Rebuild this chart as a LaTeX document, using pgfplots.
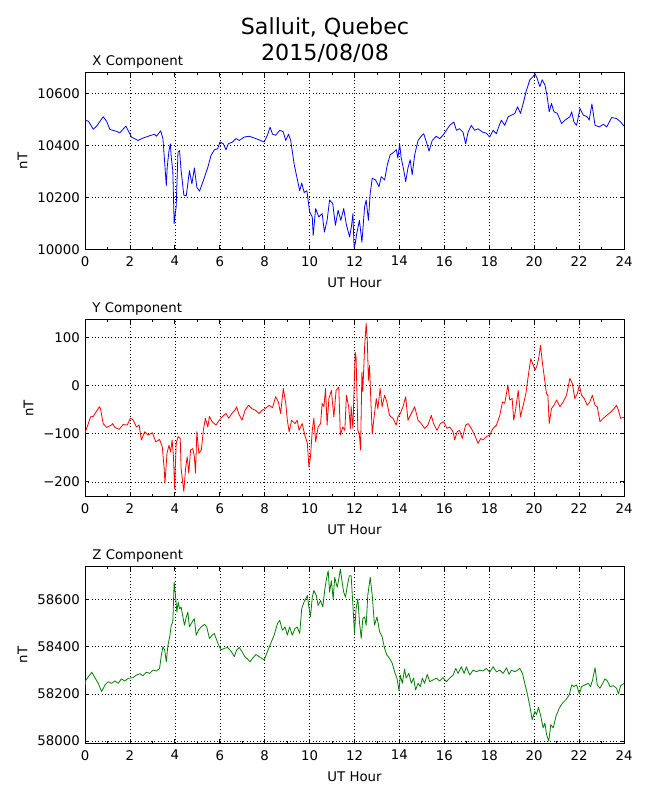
\documentclass[border=0pt]{standalone}
\usepackage{fontspec}
\setmainfont{DejaVu Sans}
\usepackage{pgfplots}
\pgfplotsset{compat=1.18}
\definecolor{mblue}{rgb}{0,0,1}
\definecolor{mred}{rgb}{1,0,0}
\definecolor{mgreen}{rgb}{0,0.5,0}
\pgfplotsset{
  panel/.style={
    scale only axis, width=539pt, height=177pt, anchor=south west,
    xmin=0, xmax=24, xtick={0,2,...,24}, minor xtick={1,3,...,23},
    grid=major,
    major grid style={black, line width=0.5pt, dash pattern=on 1pt off 2.3pt},
    axis line style={line width=1pt, black},
    tick style={black, line width=0.8pt},
    major tick length=4.4pt, minor tick length=2.2pt,
    tick align=inside,
    ticklabel style={font=\fontsize{13.3}{16}\selectfont, inner sep=0pt},
    xticklabel shift=6.5pt, yticklabel shift=5pt,
    scaled ticks=false,
    /pgf/number format/assume math mode=true,
    /pgf/number format/1000 sep={},
    label style={font=\fontsize{13.3}{16}\selectfont, inner sep=0pt},
    xlabel={UT Hour},
    xlabel style={at={(axis description cs:0.5,-0.2158)}, anchor=base},
    ylabel={nT},
    every axis title/.style={font=\fontsize{13.3}{16}\selectfont, inner sep=0pt, anchor=base west, at={(axis description cs:0.0135,1.0418)}},
    every axis plot/.append style={line width=0.8pt, line join=round, mark=none},
  }
}
\begin{document}
\begin{tikzpicture}
\useasboundingbox (0,0) rectangle (650pt,800pt);
\node[font=\fontsize{22.2}{26}\selectfont, anchor=base, inner sep=0pt] at (325pt,765.7pt) {Salluit, Quebec};
\node[font=\fontsize{22.2}{26}\selectfont, anchor=base, inner sep=0pt] at (325pt,739.3pt) {2015/08/08};

% X component
\begin{axis}[panel, at={(85pt,550.5pt)},
  ymin=10000, ymax=10680,
  ytick={10000,10200,10400,10600}, yticklabels={10000,10200,10400,10600},
  ylabel style={at={(axis description cs:-0.10705,0.5)}, anchor=base},
  title={X Component}]
\addplot[mblue] coordinates {
(0,10497)(0.15,10493)(0.37,10462)(0.52,10474)(0.81,10510)(0.96,10493)(1.11,10461)(1.40,10454)(1.55,10448)(1.82,10474)(2.07,10432)(2.36,10419)(2.58,10428)(2.88,10437)(3.10,10443)(3.18,10435)(3.37,10456)(3.47,10426)(3.55,10332)(3.62,10245)(3.66,10316)(3.74,10380)(3.80,10406)(3.84,10355)(3.91,10303)(3.97,10099)(4.02,10138)(4.06,10164)(4.14,10374)(4.21,10380)(4.28,10303)(4.40,10209)(4.51,10206)(4.65,10303)(4.76,10252)(4.87,10313)(4.98,10239)(5.10,10224)(5.27,10265)(5.47,10316)(5.61,10361)(5.76,10383)(5.91,10387)(6.01,10413)(6.16,10406)(6.28,10383)(6.38,10406)(6.57,10413)(6.72,10426)(6.87,10419)(7.09,10432)(7.31,10435)(7.61,10426)(7.98,10413)(8.12,10439)(8.24,10470)(8.35,10443)(8.49,10439)(8.67,10458)(8.82,10453)(8.94,10419)(9.06,10443)(9.16,10419)(9.31,10329)(9.45,10271)(9.56,10226)(9.65,10255)(9.76,10219)(9.88,10226)(10.0,10145)(10.12,10125)(10.16,10054)(10.27,10157)(10.41,10125)(10.56,10138)(10.66,10067)(10.78,10112)(10.89,10190)(11.03,10177)(11.15,10093)(11.27,10151)(11.39,10112)(11.52,10157)(11.63,10099)(11.78,10048)(11.86,10086)(11.93,10138)(11.98,10009)(12.03,10022)(12.10,10061)(12.22,10112)(12.33,10028)(12.45,10164)(12.52,10190)(12.62,10112)(12.70,10216)(12.79,10274)(12.94,10267)(13.09,10241)(13.19,10280)(13.34,10267)(13.46,10325)(13.59,10364)(13.71,10371)(13.86,10384)(13.93,10351)(14.01,10406)(14.08,10351)(14.19,10306)(14.28,10261)(14.38,10313)(14.48,10345)(14.57,10287)(14.68,10364)(14.83,10419)(14.97,10435)(15.08,10445)(15.20,10413)(15.32,10378)(15.46,10419)(15.64,10435)(15.79,10426)(15.94,10439)(16.09,10458)(16.24,10477)(16.42,10490)(16.54,10458)(16.68,10464)(16.83,10451)(16.95,10406)(17.06,10451)(17.20,10477)(17.35,10458)(17.50,10464)(17.70,10451)(17.87,10447)(18.02,10432)(18.17,10458)(18.32,10445)(18.39,10464)(18.54,10497)(18.69,10477)(18.84,10510)(18.99,10516)(19.14,10523)(19.26,10548)(19.39,10523)(19.51,10561)(19.66,10613)(19.81,10652)(19.96,10665)(20.04,10675)(20.13,10658)(20.25,10626)(20.36,10652)(20.48,10632)(20.58,10587)(20.67,10529)(20.77,10561)(20.88,10529)(21.03,10523)(21.22,10484)(21.37,10497)(21.59,10510)(21.67,10529)(21.77,10490)(21.89,10477)(22.04,10542)(22.19,10516)(22.36,10510)(22.45,10497)(22.57,10559)(22.71,10477)(22.90,10471)(23.08,10481)(23.23,10471)(23.45,10507)(23.67,10503)(23.85,10490)(24.0,10474)
};
\end{axis}

% Y component
\begin{axis}[panel, at={(85pt,303.3pt)},
  ymin=-231, ymax=137,
  ytick={-200,-100,0,100}, yticklabels={−200,−100,0,100},
  ylabel style={at={(axis description cs:-0.09592,0.5)}, anchor=base},
  title={Y Component}]
\addplot[mred] coordinates {
(0,-98)(0.04,-93)(0.15,-79)(0.25,-65)(0.37,-64)(0.49,-55)(0.64,-44)(0.69,-48)(0.81,-79)(0.96,-87)(1.18,-82)(1.23,-79)(1.33,-87)(1.52,-91)(1.70,-81)(1.88,-82)(2.02,-68)(2.14,-71)(2.29,-86)(2.41,-82)(2.51,-113)(2.66,-96)(2.81,-103)(3.00,-98)(3.15,-117)(3.32,-112)(3.44,-127)(3.52,-169)(3.56,-203)(3.65,-141)(3.74,-124)(3.81,-138)(3.88,-113)(3.94,-148)(3.99,-214)(4.06,-120)(4.15,-106)(4.24,-110)(4.28,-172)(4.33,-193)(4.40,-220)(4.48,-172)(4.55,-148)(4.62,-182)(4.70,-134)(4.80,-131)(4.87,-148)(4.92,-182)(4.98,-96)(5.07,-141)(5.18,-134)(5.27,-93)(5.36,-68)(5.47,-86)(5.54,-64)(5.66,-75)(5.83,-82)(5.98,-72)(6.13,-64)(6.28,-58)(6.40,-68)(6.54,-58)(6.69,-50)(6.75,-44)(6.84,-58)(6.99,-72)(7.13,-51)(7.28,-41)(7.43,-48)(7.58,-51)(7.75,-58)(7.90,-51)(8.02,-48)(8.20,-41)(8.35,-46)(8.49,-23)(8.61,-34)(8.71,-58)(8.83,-6)(8.94,-37)(9.01,-72)(9.09,-96)(9.20,-72)(9.35,-79)(9.45,-72)(9.53,-93)(9.67,-79)(9.79,-103)(9.90,-120)(9.97,-169)(10.04,-148)(10.12,-93)(10.19,-68)(10.27,-117)(10.38,-86)(10.49,-79)(10.56,-37)(10.64,-44)(10.71,-6)(10.78,-82)(10.86,-27)(10.97,-10)(11.08,-65)(11.18,-10)(11.30,-3)(11.37,-103)(11.48,-86)(11.57,-93)(11.64,-20)(11.74,-44)(11.82,-89)(11.85,-44)(11.93,-89)(12.03,70)(12.07,59)(12.15,-93)(12.22,-103)(12.27,-134)(12.33,28)(12.37,-13)(12.45,80)(12.52,129)(12.57,94)(12.62,11)(12.67,42)(12.71,-10)(12.79,-100)(12.89,-58)(12.97,-27)(13.04,-48)(13.14,-6)(13.23,-44)(13.34,-20)(13.44,-34)(13.56,-62)(13.71,-68)(13.86,-82)(13.93,-65)(14.04,-58)(14.16,-44)(14.28,-23)(14.38,-72)(14.53,-58)(14.68,-44)(14.83,-72)(14.97,-79)(15.12,-89)(15.27,-82)(15.42,-62)(15.52,-79)(15.67,-93)(15.82,-79)(15.97,-75)(16.12,-89)(16.24,-86)(16.39,-96)(16.46,-113)(16.57,-96)(16.68,-93)(16.80,-110)(16.95,-82)(17.06,-79)(17.20,-89)(17.35,-103)(17.50,-120)(17.62,-110)(17.72,-113)(17.87,-106)(18.02,-103)(18.17,-89)(18.32,-82)(18.47,-62)(18.59,-34)(18.69,-37)(18.83,1)(18.91,-30)(19.02,-27)(19.09,-72)(19.17,-51)(19.29,-10)(19.39,-65)(19.51,-41)(19.63,-17)(19.73,18)(19.85,56)(19.96,42)(20.04,32)(20.13,42)(20.21,59)(20.28,84)(20.37,46)(20.48,8)(20.55,-17)(20.61,-20)(20.67,-79)(20.77,-48)(20.88,-41)(21.00,-30)(21.15,-44)(21.29,-34)(21.44,-20)(21.59,15)(21.70,4)(21.81,-27)(21.92,-17)(22.01,1)(22.11,-20)(22.23,-27)(22.36,-41)(22.48,-34)(22.59,-20)(22.71,-41)(22.81,-44)(22.93,-75)(23.08,-68)(23.23,-62)(23.41,-55)(23.55,-48)(23.67,-41)(23.75,-51)(23.85,-68)(24.0,-66)
};
\end{axis}

% Z component
\begin{axis}[panel, at={(85pt,56.5pt)},
  ymin=57990, ymax=58740,
  ytick={58000,58200,58400,58600}, yticklabels={58000,58200,58400,58600},
  ylabel style={at={(axis description cs:-0.10705,0.5)}, anchor=base},
  title={Z Component}]
\addplot[mgreen] coordinates {
(0,58235)(0.04,58259)(0.15,58273)(0.30,58292)(0.44,58269)(0.59,58245)(0.74,58210)(0.89,58238)(1.03,58252)(1.18,58245)(1.33,58255)(1.48,58245)(1.62,58264)(1.77,58255)(1.92,58266)(2.14,58269)(2.29,58280)(2.44,58286)(2.58,58277)(2.73,58292)(2.88,58287)(3.03,58301)(3.18,58297)(3.32,58308)(3.40,58365)(3.47,58400)(3.55,58386)(3.62,58336)(3.69,58404)(3.77,58442)(3.84,58491)(3.91,58505)(3.97,58673)(4.03,58617)(4.09,58547)(4.15,58589)(4.21,58561)(4.28,58568)(4.36,58526)(4.43,58491)(4.51,58526)(4.58,58547)(4.65,58484)(4.77,58505)(4.87,58519)(4.95,58449)(5.05,58470)(5.17,58484)(5.32,58495)(5.42,58484)(5.54,58435)(5.66,58449)(5.76,58456)(5.83,58437)(5.95,58407)(6.06,58387)(6.20,58393)(6.35,58397)(6.50,58381)(6.65,58358)(6.75,58386)(6.87,58397)(6.99,58379)(7.12,58358)(7.24,58348)(7.34,58336)(7.46,58351)(7.61,58367)(7.75,58358)(7.98,58344)(8.12,58379)(8.27,58414)(8.42,58449)(8.57,58498)(8.67,58512)(8.79,58470)(8.91,58484)(9.01,58449)(9.11,58484)(9.23,58449)(9.35,58477)(9.45,58484)(9.56,58456)(9.65,58561)(9.75,58589)(9.90,58617)(9.97,58568)(10.04,58526)(10.12,58610)(10.19,58638)(10.30,58617)(10.38,58575)(10.49,58596)(10.59,58568)(10.68,58645)(10.75,58687)(10.83,58722)(10.89,58631)(10.97,58680)(11.05,58603)(11.12,58694)(11.23,58652)(11.30,58687)(11.37,58729)(11.45,58673)(11.52,58631)(11.60,58610)(11.68,58659)(11.77,58701)(11.85,58701)(11.93,58575)(12.0,58456)(12.07,58561)(12.15,58603)(12.22,58505)(12.30,58435)(12.37,58519)(12.45,58526)(12.52,58491)(12.59,58617)(12.70,58694)(12.79,58617)(12.89,58491)(13.00,58526)(13.12,58463)(13.23,58442)(13.34,58393)(13.44,58365)(13.56,58351)(13.68,58330)(13.78,58295)(13.89,58267)(13.98,58213)(14.04,58280)(14.13,58245)(14.23,58305)(14.30,58267)(14.42,58287)(14.53,58245)(14.63,58267)(14.72,58217)(14.83,58245)(14.93,58231)(15.02,58267)(15.12,58245)(15.24,58283)(15.35,58252)(15.49,58259)(15.64,58267)(15.79,58255)(15.94,58269)(16.09,58252)(16.24,58267)(16.39,58280)(16.51,58308)(16.61,58287)(16.76,58315)(16.88,58287)(16.98,58315)(17.13,58280)(17.28,58301)(17.43,58294)(17.58,58301)(17.72,58297)(17.87,58308)(18.02,58292)(18.17,58315)(18.32,58294)(18.47,58301)(18.62,58287)(18.77,58311)(18.88,58283)(18.99,58301)(19.14,58294)(19.26,58301)(19.36,58308)(19.48,58287)(19.58,58245)(19.69,58203)(19.81,58147)(19.91,58091)(20.03,58126)(20.10,58112)(20.19,58143)(20.28,58112)(20.40,58056)(20.48,58077)(20.55,58028)(20.65,58000)(20.74,58070)(20.85,58056)(20.97,58105)(21.12,58140)(21.26,58161)(21.41,58175)(21.56,58196)(21.67,58238)(21.77,58231)(21.89,58238)(22.01,58200)(22.11,58231)(22.26,58238)(22.41,58245)(22.51,58231)(22.60,58259)(22.71,58311)(22.81,58238)(22.93,58224)(23.05,58245)(23.15,58264)(23.26,58255)(23.38,58231)(23.52,58235)(23.67,58224)(23.75,58200)(23.85,58235)(24.0,58245)
};
\end{axis}
\end{tikzpicture}
\end{document}
